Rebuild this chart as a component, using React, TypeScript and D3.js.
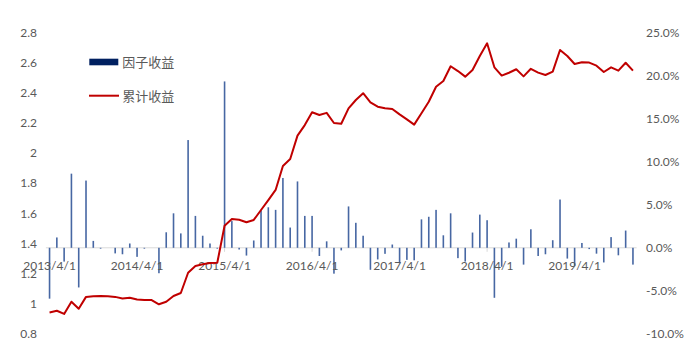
import React, { useEffect, useRef } from 'react';
import * as d3 from 'd3';

// monthly factor return (%), 2013/4 .. 2019/12
const factorReturn = [
    -5.9, 1.2, -1.6, 8.6, -4.6, 7.8, 0.8, -0.1, 0, -0.65,
    -0.75, 0.5, -1.05, -0.1, 0, -2.95, 1.8, 4.0, 1.67, 12.5,
    3.7, 1.4, 0.5, -0.1, 19.3, 3.1, -0.2, -0.9, 0.85, 4.35,
    4.7, 4.4, 8.1, 2.35, 7.7, 3.7, 3.7, -0.95, 0.75, -3.0,
    -0.3, 4.8, 2.9, 1.4, -2.55, -1.35, -0.7, 0.38, -1.8, -1.4,
    -1.45, 3.3, 3.6, 4.4, 1.45, 4.0, -1.2, -1.6, 1.77, 3.85,
    3.2, -5.8, -2.2, 0.62, 1.06, -1.95, 2.15, -0.95, -0.75, 0.88,
    5.6, -1.25, -2.1, 0.56, -0.15, -0.68, -1.7, 1.24, -0.87, 2.0,
    -1.95
];

// cumulative return (net value)
const cumReturn = [
    0.942, 0.954, 0.933, 1.014, 0.967, 1.046, 1.051, 1.052, 1.051, 1.046,
    1.036, 1.04, 1.029, 1.025, 1.025, 0.997, 1.014, 1.052, 1.072, 1.206,
    1.251, 1.262, 1.271, 1.272, 1.518, 1.562, 1.557, 1.541, 1.556, 1.622,
    1.688, 1.755, 1.914, 1.960, 2.115, 2.185, 2.270, 2.252, 2.266, 2.199,
    2.194, 2.296, 2.351, 2.396, 2.336, 2.307, 2.296, 2.292, 2.256, 2.223,
    2.188, 2.263, 2.340, 2.439, 2.477, 2.575, 2.543, 2.506, 2.550, 2.643,
    2.727, 2.568, 2.513, 2.532, 2.555, 2.508, 2.558, 2.533, 2.517, 2.539,
    2.683, 2.643, 2.590, 2.602, 2.599, 2.579, 2.537, 2.568, 2.546, 2.598,
    2.546
];

const fmtDate = d3.timeFormat('%Y/%-m/%-d');
const months = d3.timeMonth.range(new Date(2013, 3, 1), new Date(2020, 0, 1)).map(fmtDate);

const xTickLabels = ['2013/4/1', '2014/4/1', '2015/4/1', '2016/4/1', '2017/4/1', '2018/4/1', '2019/4/1'];
const leftTicks = [0.8, 1, 1.2, 1.4, 1.6, 1.8, 2, 2.2, 2.4, 2.6, 2.8];
const rightTicks = [-10, -5, 0, 5, 10, 15, 20, 25];
const legendLabels = ['因子收益', '累计收益'];

const BAR_COLOR = '#4767a3';
const LINE_COLOR = '#c00000';
const TEXT_COLOR = '#595959';

const App = () => {
    const svgRef = useRef(null);
    const width = 699;
    const height = 351;

    useEffect(() => {
        const svg = d3.select(svgRef.current);
        svg.selectAll('*').remove();

        const x = d3.scaleBand().domain(months).range([45.9, 636.6]).padding(0);
        const cx = (d) => x(d) + x.bandwidth() / 2;
        const yLeft = d3.scaleLinear().domain([0.8, 2.8]).range([334, 32.3]);
        const yRight = d3.scaleLinear().domain([-10, 25]).range([334, 32.3]);

        const font = 'Lato, "Open Sans", sans-serif';

        // left axis labels
        svg.append('g')
            .selectAll('text')
            .data(leftTicks)
            .enter().append('text')
            .attr('x', 37)
            .attr('y', d => yLeft(d))
            .attr('dy', '0.36em')
            .attr('text-anchor', 'end')
            .attr('font-family', font)
            .attr('font-size', 12)
            .attr('fill', TEXT_COLOR)
            .text(d => String(+d.toFixed(1)));

        // right axis labels
        svg.append('g')
            .selectAll('text')
            .data(rightTicks)
            .enter().append('text')
            .attr('x', 646)
            .attr('y', d => yRight(d))
            .attr('dy', '0.36em')
            .attr('text-anchor', 'start')
            .attr('font-family', font)
            .attr('font-size', 12)
            .attr('fill', TEXT_COLOR)
            .text(d => d.toFixed(1) + '%');

        // category axis line at 0%
        svg.append('line')
            .attr('x1', x.range()[0]).attr('x2', x.range()[1])
            .attr('y1', yRight(0)).attr('y2', yRight(0))
            .attr('stroke', '#d9d9d9')
            .attr('stroke-width', 1);

        svg.append('g')
            .selectAll('line')
            .data(xTickLabels)
            .enter().append('line')
            .attr('x1', d => cx(d)).attr('x2', d => cx(d))
            .attr('y1', yRight(0)).attr('y2', yRight(0) + 4)
            .attr('stroke', '#d9d9d9');

        // bars
        svg.append('g')
            .selectAll('rect')
            .data(factorReturn)
            .enter().append('rect')
            .attr('x', (d, i) => cx(months[i]) - 0.8)
            .attr('width', 1.6)
            .attr('y', d => Math.min(yRight(d), yRight(0)))
            .attr('height', d => Math.abs(yRight(d) - yRight(0)))
            .attr('fill', BAR_COLOR);

        // x labels
        svg.append('g')
            .selectAll('text')
            .data(xTickLabels)
            .enter().append('text')
            .attr('x', d => cx(d))
            .attr('y', 265.5)
            .attr('dy', '0.36em')
            .attr('text-anchor', 'middle')
            .attr('font-family', font)
            .attr('font-size', 12)
            .attr('fill', TEXT_COLOR)
            .text(d => d);

        // cumulative line
        const line = d3.line()
            .x((d, i) => cx(months[i]))
            .y(d => yLeft(d));

        svg.append('path')
            .datum(cumReturn)
            .attr('d', line)
            .attr('fill', 'none')
            .attr('stroke', LINE_COLOR)
            .attr('stroke-width', 2)
            .attr('stroke-linejoin', 'round');

        // legend
        const legend = svg.append('g');
        legend.append('rect')
            .attr('x', 89.3).attr('y', 58.7)
            .attr('width', 29).attr('height', 6.6)
            .attr('fill', '#002060');
        legend.append('line')
            .attr('x1', 89).attr('x2', 119)
            .attr('y1', 95.7).attr('y2', 95.7)
            .attr('stroke', LINE_COLOR)
            .attr('stroke-width', 2);
        legend.selectAll('text')
            .data(legendLabels)
            .enter().append('text')
            .attr('x', 122.3)
            .attr('y', (d, i) => i === 0 ? 62.3 : 96)
            .attr('dy', '0.36em')
            .attr('font-family', '"Noto Sans CJK SC", sans-serif')
            .attr('font-size', 13)
            .attr('fill', TEXT_COLOR)
            .text(d => d);
    }, []);

    return <svg ref={svgRef} width={width} height={height}
        style={{ position: 'absolute', left: 0, top: 0, background: '#fff' }} />;
};

export default App;
